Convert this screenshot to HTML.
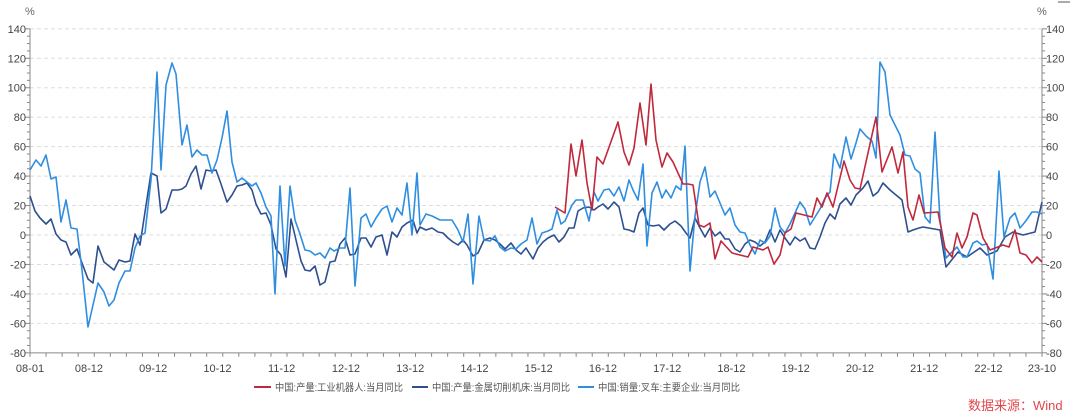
<!DOCTYPE html>
<html><head><meta charset="utf-8"><style>
html,body{margin:0;padding:0;background:#fff;}
svg{display:block;font-family:"Liberation Sans","Noto Sans CJK SC",sans-serif;}
</style></head><body>
<svg width="1080" height="417" viewBox="0 0 1080 417" xmlns="http://www.w3.org/2000/svg">
<g id="grid" stroke="#ddd" stroke-dasharray="4,3" stroke-width="1"></g>
<g id="axes" stroke="#888" stroke-width="1" fill="none"></g>
<g id="labels" font-size="11" fill="#444"></g>
<text x="25" y="15" font-size="11" fill="#666">%</text>
<text x="1037" y="15" font-size="11" fill="#666">%</text>
<line x1="1058" y1="2" x2="1070" y2="2" stroke="#555"/>
<polyline id="navy" fill="none" stroke="#2e4f8f" stroke-width="1.6" stroke-linejoin="round" points="30,196 35,211 40,218 46,224 51,219 56,234 61,240 66,242 71,255 77,249 82,263 88,279 93,283 98,246 104,262 109,266 114,270 119,260 125,262 130,261 135,234 140,245 145,212 151,173 157,176 161,213 166,209 172,190 178,190 182,189 186,186 191,174 196,166 201,189 206,170 211,171 216,170 221,184 227,202 232,195 237,186 242,185 247,183 252,190 256,204 261,214 266,213 271,225 276,249 281,255 286,277 291,219 296,240 301,261 305,270 310,271 315,266 320,285 325,282 330,262 335,261 340,244 345,238 350,255 355,254 361,238 366,238 371,247 376,237 382,235 387,255 392,232 397,237 402,227 407,223 413,220 417,233 420,227 426,230 432,228 438,232 443,233 448,238 453,242 458,245 463,240 467,245 473,256 478,253 484,240 490,238 495,240 500,244 505,249 511,243 516,250 521,254 526,248 533,259 538,248 543,242 548,238 554,235 559,242 564,237 569,228 574,228 578,211 583,208 589,207 594,210 598,207 603,204 608,209 614,202 619,207 624,229 629,230 634,232 639,213 643,208 648,225 653,226 659,225 664,230 670,224 675,221 681,226 686,233 690,238 695,218 700,228 705,237 710,228 715,236 720,232 725,239 729,239 735,249 740,252 745,244 750,240 755,242 760,246 765,242 770,230 775,242 780,230 785,238 790,245 795,237 800,241 805,238 810,248 815,249 820,237 825,223 830,214 835,219 840,204 846,198 851,205 856,195 863,188 868,181 873,196 878,192 883,183 890,190 902,200 908,232 913,230 919,228 923,227 940,230 946,267 958,252 967,257 980,248 987,255 997,251 1005,237 1013,232 1023,235 1035,232 1042,202"/>
<polyline id="light" fill="none" stroke="#2f8ee0" stroke-width="1.6" stroke-linejoin="round" points="30,170 36,160 41,166 46,155 51,179 56,177 61,222 66,200 71,228 77,229 82,270 88,327 93,305 98,283 104,292 109,306 114,300 119,283 125,271 130,271 135,248 140,236 145,233 151,180 157,72 161,170 166,85 172,63 176,74 182,145 187,125 192,157 197,150 202,155 207,155 212,173 217,160 222,138 227,111 232,162 237,182 242,178 247,182 252,186 256,183 261,193 266,207 271,216 275,294 280,186 285,266 290,186 295,220 300,234 305,250 310,251 315,255 320,253 325,258 330,248 334,251 340,248 345,248 350,188 355,286 361,218 366,214 371,227 376,218 382,209 387,206 392,222 397,208 402,215 407,183 412,235 417,173 420,225 426,214 432,216 440,220 446,220 452,220 458,230 463,242 468,214 473,284 479,216 484,240 490,241 495,236 500,247 505,251 511,248 516,249 521,244 527,240 532,218 537,244 542,233 548,231 552,229 557,210 561,224 565,221 572,205 576,200 583,200 589,221 594,192 598,201 604,190 609,189 614,196 619,187 624,201 629,180 633,190 638,200 643,164 647,246 652,193 657,182 662,198 666,190 671,198 676,186 681,190 685,146 690,271 695,216 700,182 705,167 710,197 715,191 720,203 725,215 730,208 735,225 740,232 745,233 750,245 755,254 760,240 765,243 770,236 775,208 780,227 785,233 790,224 795,213 800,202 805,209 810,225 815,217 820,209 825,198 830,192 834,154 840,168 846,137 851,159 856,143 860,129 866,136 872,141 876,158 880,62 885,72 890,115 895,125 900,135 905,155 910,156 915,169 920,173 925,217 930,223 935,132 940,220 946,258 952,252 957,247 963,257 967,257 973,243 977,241 982,245 987,244 993,279 999,171 1004,237 1010,218 1015,213 1020,228 1025,222 1032,212 1037,212 1042,214"/>
<polyline id="red" fill="none" stroke="#c0283c" stroke-width="1.6" stroke-linejoin="round" points="555,207 565,213 571,144 576,176 582,140 587,183 592,210 597,157 603,164 608,150 618,122 624,152 629,165 634,148 640,103 646,145 651,84 656,140 662,167 667,153 673,162 683,184 688,184 693,185 699,225 704,227 710,223 715,259 721,241 732,253 748,257 753,247 763,250 768,247 774,264 780,255 785,233 791,229 796,213 812,217 817,198 822,207 827,193 833,207 844,161 850,180 855,188 860,189 876,117 882,172 892,147 898,173 903,152 908,207 913,220 919,195 924,213 938,212 945,248 952,257 957,233 962,248 967,237 973,213 977,215 983,238 990,250 1003,245 1009,247 1015,230 1020,253 1026,255 1032,263 1037,257 1042,262"/>
<g font-size="10" fill="#555">
<line x1="254" y1="387" x2="271" y2="387" stroke="#c0283c" stroke-width="2"/>
<text x="275" y="391" textLength="128" lengthAdjust="spacingAndGlyphs">中国:产量:工业机器人:当月同比</text>
<line x1="412" y1="387" x2="428" y2="387" stroke="#2e4f8f" stroke-width="2"/>
<text x="432" y="391" textLength="138" lengthAdjust="spacingAndGlyphs">中国:产量:金属切削机床:当月同比</text>
<line x1="578" y1="387" x2="594" y2="387" stroke="#2f8ee0" stroke-width="2"/>
<text x="598" y="391" textLength="142" lengthAdjust="spacingAndGlyphs">中国:销量:叉车:主要企业:当月同比</text>
</g>
<text x="968" y="410" font-size="13" fill="#e0474c">数据来源：Wind</text>
<script>
var ns="http://www.w3.org/2000/svg";
function el(p,t,a,txt){var e=document.createElementNS(ns,t);for(var k in a)e.setAttribute(k,a[k]);if(txt!=null)e.textContent=txt;document.getElementById(p).appendChild(e);}
function Y(v){return 235-v*1.4727;}
for(var v=-80;v<=140;v+=20){var y=Y(v);
 if(v>-80)el("grid","line",{x1:30,x2:1042,y1:y,y2:y});
 el("labels","text",{x:26,y:y+4,"text-anchor":"end"},v);
 el("labels","text",{x:1046,y:y+4},v);}
el("axes","line",{x1:30,x2:30,y1:Y(140),y2:Y(-80)});
el("axes","line",{x1:1042,x2:1042,y1:Y(140),y2:Y(-80)});
el("axes","line",{x1:30,x2:1042,y1:Y(-80),y2:Y(-80)});
for(var v=-80;v<=140;v+=5){var y=Y(v),L=(v%20==0)?5:3;
 el("axes","line",{x1:30-L,x2:30,y1:y,y2:y});el("axes","line",{x1:1042,x2:1042+L,y1:y,y2:y});}
var pm=1012/189;
for(var m=0;m<=189;m+=3){var x=30+m*pm;el("axes","line",{x1:x,x2:x,y1:Y(-80),y2:Y(-80)+((m-11)%12==0?5:4)});}
el("labels","text",{x:30,y:372,"text-anchor":"middle"},"08-01");
for(var i=0;i<15;i++){var yr=8+i;var x=30+(11+12*i)*pm;el("labels","text",{x:x,y:372,"text-anchor":"middle"},(yr<10?"0":"")+yr+"-12");}
el("labels","text",{x:1042,y:372,"text-anchor":"middle"},"23-10");
</script>
</svg>
</body></html>
